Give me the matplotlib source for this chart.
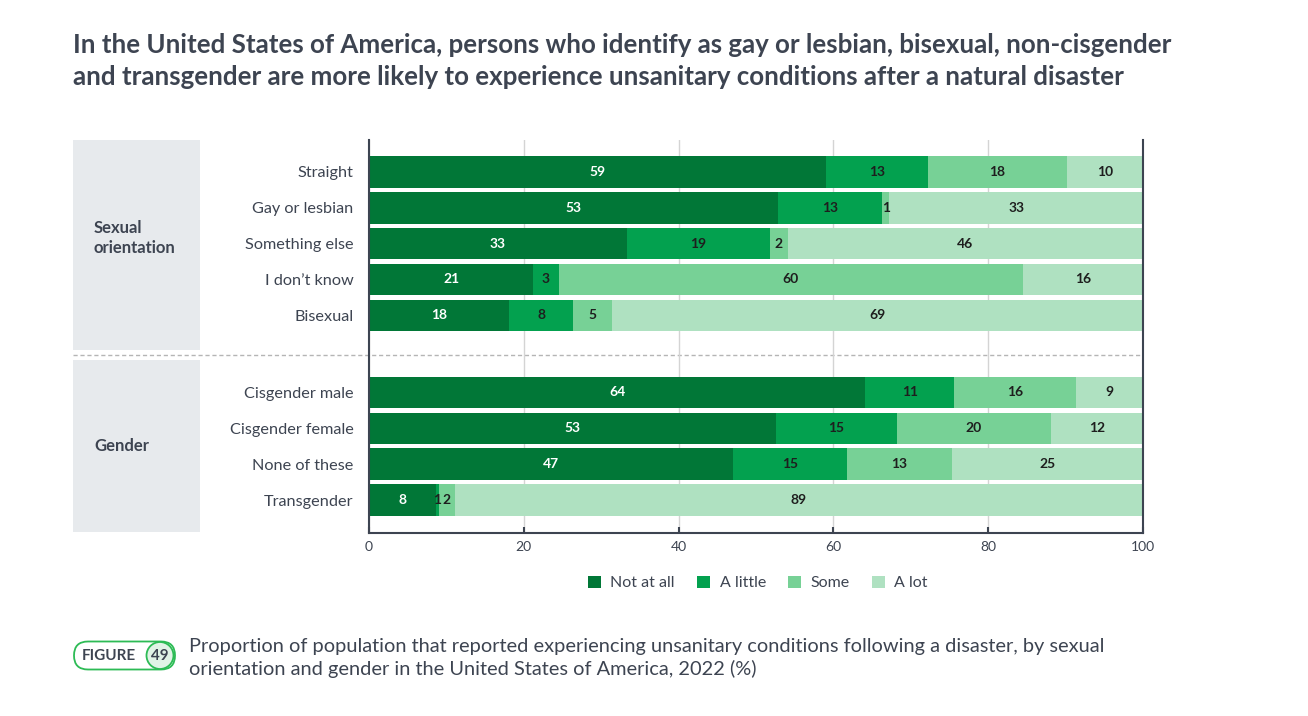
import matplotlib
matplotlib.use("Agg")
import matplotlib.pyplot as plt
from matplotlib.patches import Rectangle, FancyBboxPatch, Circle, Patch

plt.rcParams['font.family'] = ['Lato', 'DejaVu Sans']

categories = ["Straight", "Gay or lesbian", "Something else", "I don\u2019t know", "Bisexual",
              "Cisgender male", "Cisgender female", "None of these", "Transgender"]
series_names = ["Not at all", "A little", "Some", "A lot"]
not_at_all = [59.0, 52.8, 33.3, 21.2, 18.1, 64.1, 52.6, 47.0, 8.7]
a_little   = [13.2, 13.5, 18.5, 3.3, 8.3, 11.5, 15.6, 14.8, 0.3]
some       = [18.0, 0.9, 2.3, 60.0, 5.0, 15.7, 19.9, 13.5, 2.1]
a_lot      = [9.8, 32.8, 45.9, 15.5, 68.6, 8.7, 11.9, 24.7, 88.9]
lbl_not_at_all = ["59", "53", "33", "21", "18", "64", "53", "47", "8"]
lbl_a_little   = ["13", "13", "19", "3", "8", "11", "15", "15", "1"]
lbl_some       = ["18", "1", "2", "60", "5", "16", "20", "13", "2"]
lbl_a_lot      = ["10", "33", "46", "16", "69", "9", "12", "25", "89"]
groups = ["Sexual\norientation", "Gender"]
xticks = [0, 20, 40, 60, 80, 100]

colors = ["#017737", "#03a14f", "#77d196", "#afe1c1"]
text_dark = "#3d4451"

fig = plt.figure(figsize=(13.08, 7.16), dpi=100)
W, H = 1308, 716

def fx(px): return px / W
def fy(py): return 1 - py / H

# overlay axes in pixel coordinates for decorations
ov = fig.add_axes([0, 0, 1, 1], zorder=0)
ov.set_xlim(0, W)
ov.set_ylim(H, 0)
ov.axis("off")

ov.add_patch(Rectangle((73, 140), 127, 210, facecolor="#e7eaed", edgecolor="none"))
ov.add_patch(Rectangle((73, 360), 127, 172, facecolor="#e7eaed", edgecolor="none"))
ov.plot([73, 1143], [355, 355], color="#b5b5b5", lw=1, ls=(0, (3, 2)))
ov.text(94, 238, groups[0], ha="left", va="center", fontsize=12, fontweight="bold",
        color=text_dark, linespacing=1.25)
ov.text(94, 446, groups[1], ha="left", va="center", fontsize=12, fontweight="bold",
        color=text_dark)

# title
ov.text(73, 33, "In the United States of America, persons who identify as gay or lesbian, bisexual, non-cisgender\n"
        "and transgender are more likely to experience unsanitary conditions after a natural disaster",
        ha="left", va="top", fontsize=18.6, fontweight="bold", color=text_dark, linespacing=1.4)

# figure pill
ov.add_patch(FancyBboxPatch((74, 641.5), 101, 28, boxstyle="round,pad=0,rounding_size=14",
                            facecolor="white", edgecolor="#2dbb55", lw=1.3))
ov.add_patch(Circle((160, 655.5), 13.5, facecolor="#e1f3e6", edgecolor="#2dbb55", lw=1.3))
ov.text(82, 656, "FIGURE", ha="left", va="center", fontsize=11, fontweight="bold", color=text_dark)
ov.text(160, 656, "49", ha="center", va="center", fontsize=11, fontweight="bold", color=text_dark)

ov.text(189, 638, "Proportion of population that reported experiencing unsanitary conditions following a disaster, by sexual\n"
        "orientation and gender in the United States of America, 2022 (%)",
        ha="left", va="top", fontsize=14.4, color=text_dark, linespacing=1.32)

ax = fig.add_axes([fx(369), fy(533), fx(1143) - fx(369), fy(140) - fy(533)], zorder=2)
ax.patch.set_alpha(0)
ypos = [0, 1, 2, 3, 4, 6.15, 7.15, 8.15, 9.15]
series = [not_at_all, a_little, some, a_lot]
labels = [lbl_not_at_all, lbl_a_little, lbl_some, lbl_a_lot]
left = [0.0] * len(categories)
for si, (vals, lbls) in enumerate(zip(series, labels)):
    ax.barh(ypos, vals, left=left, height=0.88, color=colors[si], zorder=2,
            label=series_names[si])
    for i, (v, l) in enumerate(zip(vals, lbls)):
        cx = left[i] + v / 2
        ax.text(cx, ypos[i], l, ha="center", va="center", fontsize=10, fontweight="bold",
                color="white" if si == 0 else "#1e1e1e", zorder=3)
    left = [a + b for a, b in zip(left, vals)]

ax.set_xlim(0, 100)
ax.set_ylim(10.07, -0.89)
ax.set_yticks(ypos)
ax.set_yticklabels(categories, fontsize=11.7, color=text_dark)
ax.tick_params(axis="y", length=0, pad=11)
ax.set_xticks(xticks)
ax.set_xticklabels([str(t) for t in xticks], fontsize=10, color=text_dark)
ax.tick_params(axis="x", direction="in", length=4, width=1.5, color=text_dark, pad=6)
ax.grid(axis="x", color="#d4d4d4", lw=1, zorder=0)
ax.set_axisbelow(True)
for s in ["left", "right", "bottom"]:
    ax.spines[s].set_color(text_dark)
    ax.spines[s].set_linewidth(1.5)
ax.spines["top"].set_visible(False)

handles = [Patch(facecolor=c, edgecolor="none") for c in colors]
fig.legend(handles, series_names, loc="center", bbox_to_anchor=(fx(758), fy(583)), ncol=4,
           frameon=False, fontsize=11.5, handlelength=0.8, handleheight=0.8, handletextpad=0.6,
           columnspacing=1.4, labelcolor=text_dark)

fig.savefig("out.png", dpi=100)
